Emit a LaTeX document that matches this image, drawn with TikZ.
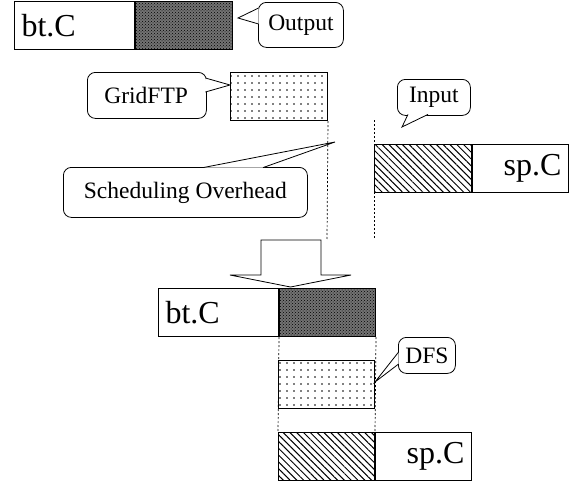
\documentclass[tikz,border=0pt]{standalone}
\usepackage{fontspec}
\setmainfont{Liberation Serif}
\usetikzlibrary{patterns}
\usetikzlibrary{patterns.meta}

\begin{document}
\begin{tikzpicture}[x=1pt, y=-1pt,
	blk/.style={draw, line width=1pt, anchor=north west, inner sep=0pt, minimum height=48pt},
	outblk/.style={blk, preaction={fill=black!55}, pattern=crosshatch dots},
	inblk/.style={blk, pattern={Lines[angle=-45, distance=4.8pt, line width=1pt]}},
	xferblk/.style={blk, pattern={Dots[distance=7pt, radius=0.8pt]}},
	jobname/.style={blk, text width=106pt, font=\fontsize{32}{34}\selectfont},
	callbox/.style={draw, line width=0.8pt, rounded corners=8pt, fill=white, anchor=north west, inner sep=0pt, font=\fontsize{23.5}{26}\selectfont},
	tail/.style={line width=0.8pt, fill=white},
	gap/.style={line width=0.7pt, dash pattern=on 2pt off 2pt}]

			\useasboundingbox (0,0) rectangle (573,482);

			\coordinate (gapA) at (374,120);
			\coordinate (gapAend) at (374,239);
			\coordinate (gapBend) at (327,239);

			\node[jobname, minimum width=120pt, align=left] (btA) at (14,1) {bt.C};
			\node[outblk, minimum width=97pt] (outA) at (btA.north east) {};

			\node[xferblk, minimum width=97pt] (ftpA) at (230,72) {};

			\node[inblk, minimum width=97pt] (inA) at (374,144) {};
			\node[jobname, minimum width=96pt, text width=82pt, align=right] (spA) at (inA.north east) {sp.C};

			\draw[gap] (ftpA.south east) -- (gapBend);
			\draw[gap] (gapA) -- (gapAend);

			\draw[line width=0.8pt, fill=white] (261,240) -- (321,240) -- (321,275) -- (351,275)
				-- (290.5,287) -- (230,275) -- (261,275) -- cycle;

			\node[jobname, minimum width=120pt, align=left] (btB) at (158,288) {bt.C};
			\node[outblk, minimum width=96pt] (outB) at (btB.north east) {};

			\node[inblk, minimum width=96pt] (inB) at (278,432) {};
			\node[jobname, minimum width=96pt, text width=82pt, align=right] (spB) at (inB.north east) {sp.C};

			\draw[gap] (outB.south west) -- (inB.north west);
			\draw[gap] (outB.south east) -- (inB.north east);

			\node[xferblk, minimum width=96pt] (dfsB) at (278,360) {};

			\node[callbox, minimum width=85pt, minimum height=45pt] (outcall) at (258,2) {Output};
			\draw[tail] (258.6,8) -- (238,18) -- (258.6,24);

			\node[callbox, minimum width=119pt, minimum height=46pt, text width=107pt, align=left, inner xsep=0pt] (ftpcall) at (87,72) {\hspace*{11pt}GridFTP};
			\draw[tail] (205.4,78) -- (ftpA.west |- 0,85) -- (205.4,92);

			\node[callbox, minimum width=244pt, minimum height=50pt] (schedcall) at (63,167) {Scheduling Overhead};
			\draw[tail] (203,167.6) -- (335,142) -- (263,167.6);

			\node[callbox, minimum width=73pt, minimum height=36pt] (incall) at (397,79) {Input};
			\draw[tail] (408,114.4) -- (402,127) -- (428,114.4);

			\node[callbox, minimum width=57pt, minimum height=36pt] (dfscall) at (398,337) {DFS};
			\draw[tail] (398.6,352) -- (dfsB.east |- 0,382) -- (398.6,364);
		\end{tikzpicture}
\end{document}
